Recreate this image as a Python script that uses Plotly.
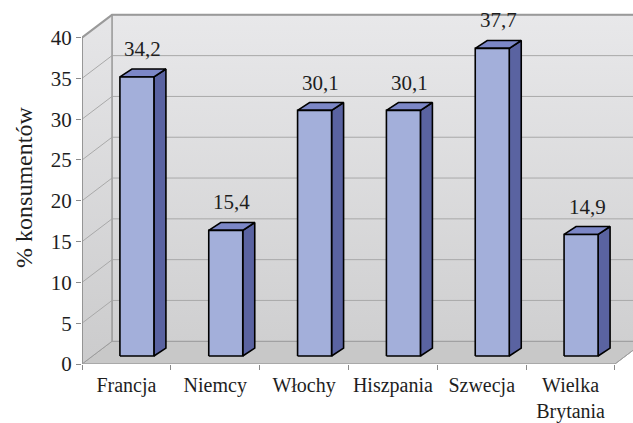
import plotly.graph_objects as go

# Share of consumers by country
countries = ["Francja", "Niemcy", "Włochy", "Hiszpania", "Szwecja", "Wielka<br>Brytania"]
values = [34.2, 15.4, 30.1, 30.1, 37.7, 14.9]
y_ticks = [0, 5, 10, 15, 20, 25, 30, 35, 40]
y_title = "% konsumentów"

FONT = "Liberation Serif"
TXT = "#1e1e1e"

# pseudo-3D geometry, in axis units
X_PER_PX = 1 / 88.83
Y_PER_PX = 1 / 8.25
DX, DY = 30 * X_PER_PX, 23 * Y_PER_PX          # full depth of the box
F0 = 0.35                                      # depth fraction of bar front faces
BDX, BDY = 12 * X_PER_PX, 8 * Y_PER_PX         # depth of each bar
BAR_W = 34 * X_PER_PX
YMAX = max(y_ticks)
n = len(countries)

fig = go.Figure()


def poly(xs, ys, fill=None, line_color="rgba(0,0,0,0)", width=1, grad=None):
    kw = dict(x=xs + [xs[0]], y=ys + [ys[0]], mode="lines",
              line=dict(color=line_color, width=width),
              hoverinfo="skip", showlegend=False)
    if fill is not None or grad is not None:
        kw["fill"] = "toself"
        kw["fillcolor"] = fill if fill else "rgba(0,0,0,0)"
    if grad is not None:
        kw["fillgradient"] = grad
    fig.add_trace(go.Scatter(**kw))


def seg(xs, ys, color, width=1):
    fig.add_trace(go.Scatter(x=xs, y=ys, mode="lines",
                             line=dict(color=color, width=width),
                             hoverinfo="skip", showlegend=False))


WALL_EDGE = "#9c9c9c"
GRID = "#a9a9a9"

# floor
poly([0, n, n + DX, DX], [0, 0, DY, DY], fill="#c8c8c8", line_color=WALL_EDGE)
# back wall
poly([DX, n + DX, n + DX, DX], [DY, DY, YMAX + DY, YMAX + DY],
     grad=dict(type="vertical", start=DY, stop=YMAX + DY,
               colorscale=[[0, "#cfcfd0"], [1, "#e8e8ea"]]),
     line_color=WALL_EDGE)
# left wall
poly([0, DX, DX, 0], [0, DY, YMAX + DY, YMAX],
     grad=dict(type="vertical", start=0, stop=YMAX + DY,
               colorscale=[[0, "#cbcbcc"], [1, "#e6e6e8"]]),
     line_color=WALL_EDGE)

# gridlines on back and side walls
for t in y_ticks[1:-1]:
    seg([0, DX, n + DX], [t, t + DY, t + DY], GRID, 1)
# top border of the back wall
seg([0, DX, n + DX], [YMAX, YMAX + DY, YMAX + DY], "#9a9a9a", 2)
seg([DX, DX], [DY, YMAX + DY], WALL_EDGE, 1)
# front axis line
seg([0, 0], [0, YMAX], "#8a8a8a", 1.5)
seg([0, n, n + DX], [0, 0, DY], "#a0a0a0", 1)

FRONT = "#a3afda"
SIDE = "#5a63a1"
TOP = "#7c87c7"
EDGE = "#000000"

bar_base = F0 * DY
for i, v in enumerate(values):
    xc = i + 0.5 + F0 * DX
    xl, xr = xc - BAR_W / 2, xc + BAR_W / 2
    yt = bar_base + v
    # side face
    poly([xr, xr + BDX, xr + BDX, xr], [bar_base, bar_base + BDY, yt + BDY, yt],
         fill=SIDE, line_color=EDGE, width=1.6)
    # top face
    poly([xl, xr, xr + BDX, xl + BDX], [yt, yt, yt + BDY, yt + BDY],
         fill=TOP, line_color=EDGE, width=1.6)
    # front face
    poly([xl, xr, xr, xl], [bar_base, bar_base, yt, yt],
         fill=FRONT, line_color=EDGE, width=1.6)
    fig.add_annotation(x=xc + BDX / 2, y=yt + BDY, xref="x", yref="y",
                       text=f"{v:.1f}".replace(".", ","), showarrow=False,
                       yanchor="bottom", yshift=6,
                       font=dict(family=FONT, size=21, color=TXT))

W, H = 633, 423
L, B = 82, 55
plot_w, plot_h = W - L, H - B

fig.add_annotation(text=y_title, textangle=-90, showarrow=False,
                   xref="paper", yref="paper",
                   x=(24 - L) / plot_w, y=(plot_h - 190) / plot_h,
                   xanchor="center", yanchor="middle",
                   font=dict(family=FONT, size=24, color=TXT))

fig.update_layout(
    width=W, height=H,
    margin=dict(l=L, r=0, t=0, b=B),
    paper_bgcolor="white", plot_bgcolor="white",
    font=dict(family=FONT, size=20, color=TXT),
    xaxis=dict(range=[0, plot_w * X_PER_PX],
               tickvals=[i + 0.5 for i in range(n)], ticktext=countries,
               ticks="", showgrid=False, zeroline=False, showline=False,
               ticklabelstandoff=7,
               minor=dict(tickvals=list(range(n + 1)), ticks="outside",
                          ticklen=5, tickcolor="#8a8a8a", showgrid=False),
               tickfont=dict(family=FONT, size=20, color=TXT),
               fixedrange=True),
    yaxis=dict(range=[0, plot_h * Y_PER_PX], tickvals=y_ticks,
               ticks="outside", ticklen=5, tickcolor="#8a8a8a",
               showgrid=False, zeroline=False, showline=False,
               tickfont=dict(family=FONT, size=21, color=TXT),
               fixedrange=True),
)

fig.write_html("out.html")
